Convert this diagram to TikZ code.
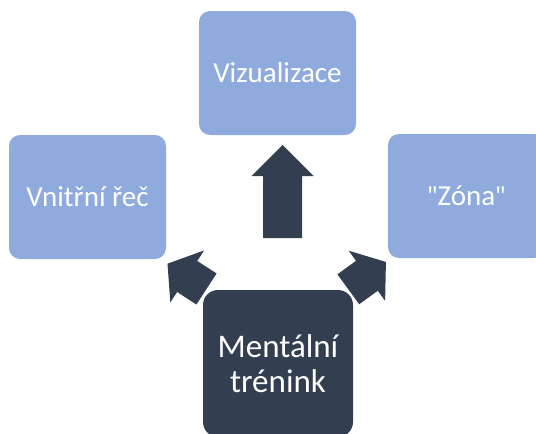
\documentclass[tikz,border=0pt]{standalone}
\usepackage{fontspec}
\setmainfont{Carlito}
\newfontfamily\quotefont{Open Sans}
\newcommand{\sq}{{\quotefont\fontsize{26}{33}\selectfont\symbol{34}}}
\definecolor{lightblue}{HTML}{8FAADC}
\definecolor{darknavy}{HTML}{333F50}
\tikzset{
  lbox/.style={rectangle, rounded corners=11pt, fill=lightblue, text=white,
    minimum width=157pt, minimum height=124pt, inner sep=0pt,
    font=\fontsize{29}{33}\selectfont},
  dbox/.style={rectangle, rounded corners=15pt, fill=darknavy, text=white,
    minimum width=150pt, minimum height=147pt, inner sep=0pt, align=center,
    font=\fontsize{33}{35}\selectfont},
  blockarrow/.style={fill=darknavy}
}
\begin{document}
\begin{tikzpicture}[x=1pt,y=-1pt]
\useasboundingbox (0,0) rectangle (536,434);
\clip (0,0) rectangle (536,434);
\node[lbox] (viz) at (277.5,73) {Vizualizace};
\node[lbox] (vnit) at (87.5,197) {Vnitřní řeč};
\node[lbox] (zona) at (466.5,196) {\sq Zóna\sq};
\node[dbox] (ment) at (278,363.5) {Mentální\\trénink};
% up block arrow
\coordinate (upTail) at (282.5,238);
\begin{scope}[shift={(upTail)}, rotate=90]
  \fill[blockarrow] (0,-19.5) -- (62,-19.5) -- (62,-31) -- (93,0) -- (62,31) -- (62,19.5) -- (0,19.5) -- cycle;
\end{scope}
% left block arrow
\coordinate (leftTail) at (206.5,289);
\begin{scope}[shift={(leftTail)}, rotate=147]
  \fill[blockarrow] (0,-18.5) -- (23,-18.5) -- (23,-31) -- (46.5,0) -- (23,31) -- (23,18.5) -- (0,18.5) -- cycle;
\end{scope}
% right block arrow
\coordinate (rightTail) at (348.3,289.3);
\begin{scope}[shift={(rightTail)}, rotate=36]
  \fill[blockarrow] (0,-18.5) -- (23,-18.5) -- (23,-31) -- (46.5,0) -- (23,31) -- (23,18.5) -- (0,18.5) -- cycle;
\end{scope}
\end{tikzpicture}
\end{document}
